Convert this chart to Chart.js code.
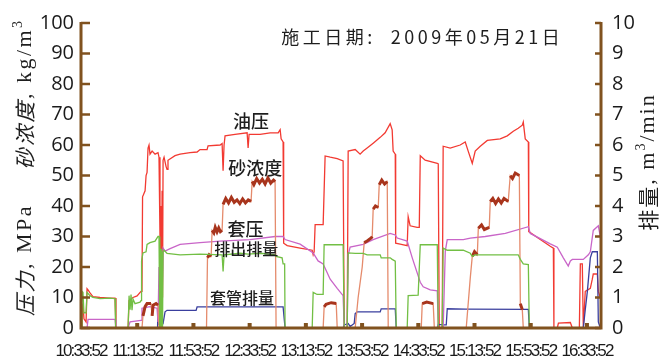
<!DOCTYPE html>
<html><head><meta charset="utf-8">
<script src="https://cdn.jsdelivr.net/npm/chart.js@4.4.0/dist/chart.umd.min.js"></script>
<style>html,body{margin:0;padding:0;background:#fff;}#wrap{width:661px;height:362px;}</style>
</head><body><div id="wrap"><canvas id="c" width="661" height="362"></canvas></div>
<script>
// x = minutes after 10:33:52
const tickLabels = ['10:33:52','11:13:52','11:53:52','12:33:52','13:13:52','13:53:52','14:33:52','15:13:52','15:53:52','16:33:52'];

// 油压 (MPa)
const oilPressure = [[0,0],[0.7,3],[1.4,8],[2.1,3],[3.6,2],[4.3,12.9],[5.0,12.5],[6.4,11.5],[8.5,10.3],[13.5,10],[20.6,9.8],[24.2,9.8],[24.9,0],[33.5,0],[34.2,9],[37.0,10],[39.9,10.5],[42.7,12],[43.4,12.5],[43.8,43],[45.6,45],[46.3,50],[47.0,51],[47.7,59],[48.4,60],[49.1,57],[50.6,58],[52.7,57],[54.8,57.5],[55.5,56],[56.2,30],[56.6,0],[57.0,40],[57.3,5],[57.7,45],[58.0,10],[58.4,55],[59.1,56],[60.5,53],[61.2,52],[61.9,55],[66.9,56.5],[70.5,57],[77.6,57.5],[82.6,57.7],[84.7,58.5],[89.7,58.5],[90.4,59.7],[99.0,60],[100.4,60.5],[101.1,51.6],[101.8,60],[102.5,63],[109.6,63.5],[118.2,64],[118.9,59],[119.6,63.5],[127.4,63.5],[134.6,64],[140.3,64],[141.7,65],[142.4,62],[143.8,61],[144.2,27.8],[146.7,27],[155.9,26.2],[164.5,25.5],[165.2,24],[165.9,25],[166.6,33.9],[172.3,33.9],[173.7,56.4],[177.3,56],[182.3,55.5],[186.5,54.8],[187.3,0],[189.4,0],[190.1,58],[195.1,58.5],[198.6,57],[200.8,58],[203.6,59],[207.9,60.6],[212.9,62.5],[216.4,64],[220.0,67],[221.4,65],[222.1,58],[223.6,57],[223.9,27.8],[227.1,27.5],[232.1,27],[232.8,36.5],[234.2,33.5],[239.2,33],[240.7,33],[241.4,56.5],[244.9,55],[253.5,54],[254.2,53.8],[254.9,0],[257.0,0],[257.7,59.6],[262.7,59],[269.8,60],[273.4,61],[275.5,58],[278.4,54],[280.5,58],[284.1,59.6],[289.1,61.5],[298.3,62],[303.3,63],[307.6,64.5],[311.1,65.5],[314.0,66.5],[314.7,67.5],[316.1,62],[318.3,61],[318.6,31.6],[326.8,29],[333.9,26.8],[336.1,26.2],[336.5,0],[338.9,0],[339.7,1.6],[348.2,1.8],[349.6,0],[354.6,0],[355.3,21],[356.7,21],[357.4,0],[358.8,12],[362.4,13],[363.8,16],[364.5,17.7],[367.4,17.7],[368.1,12],[369.5,10]];

// 套压 (MPa)
const casingPressure = [[0,0],[0.7,12],[1.4,11.7],[2.1,5],[3.6,5],[4.3,11.7],[6.4,10.6],[8.5,10],[13.5,9.6],[20.6,9.8],[24.2,9.6],[24.6,0],[33.5,0],[34.2,10.6],[34.9,6],[35.6,11],[36.3,5.8],[37.0,9.5],[38.4,8],[42.0,8.5],[42.7,9],[43.1,22],[44.1,24.6],[46.3,25],[47.0,27.4],[49.1,28],[52.7,28.5],[54.8,30],[55.5,30],[55.9,0],[56.2,28],[56.6,0],[57.0,26],[57.3,0],[57.7,25],[58.0,0],[58.4,25],[59.1,25.5],[61.2,24.5],[70.5,24],[84.7,24.2],[100.4,24],[101.1,18.5],[101.8,24],[113.2,24.5],[118.9,24.2],[127.4,24.5],[138.1,24],[138.8,23.5],[143.1,23],[143.8,21],[144.9,21],[145.2,0],[164.5,0],[165.2,11.7],[168.0,11],[172.3,11],[173.0,27.3],[177.3,27.3],[186.5,27.3],[187.3,0],[189.4,0],[190.1,24.6],[195.1,24.5],[200.8,24.5],[203.6,24],[212.9,24],[213.6,23],[220.0,23],[221.4,22.5],[223.6,21.9],[224.3,0],[232.1,0],[232.8,10.6],[239.9,10.8],[241.4,27.3],[253.5,27.3],[254.2,0],[257.0,0],[257.7,26.2],[260.6,25.5],[272.0,25.5],[277.0,24.5],[278.4,23.5],[280.5,24],[282.7,24],[311.1,24],[312.6,22.5],[314.7,21],[318.3,20.8],[319.0,0],[369.5,0]];

// 砂浓度 (kg/m3)
const sandConc = [[0,0],[43.4,0],[44.1,4],[45.6,7],[47.0,8],[49.8,8],[50.6,4],[51.3,7.5],[53.4,8],[54.8,7.5],[55.5,0],[89.3,0],[90.0,23],[91.2,24],[92.6,23.5],[93.3,32],[94.5,31.2],[95.5,33],[96.8,31.5],[98,32.8],[99.2,31.6],[100.4,32],[101.1,40.5],[103,42.5],[105,41],[107,42.8],[109,41.2],[111,42],[113,40.8],[115,42.3],[117,41],[119,42],[121.0,41.5],[121.8,48],[123,47],[125,49],[127,47.5],[129,48.8],[131,47.2],[133,49.2],[135,47.5],[137,48.5],[138.1,48],[138.8,0],[172.3,0],[173.0,6.9],[174.4,7.8],[178,8.3],[181.6,8],[182.3,0],[195.1,0],[197.2,10],[200.1,20],[201.5,28],[203.6,28.5],[206.5,29.5],[207.2,30],[207.9,39],[209.5,40],[211.5,39.5],[212.2,47],[214,48.5],[216,47.2],[217.9,48],[218.6,0],[242.1,0],[242.8,8],[246,8.5],[250.6,8],[251.4,0],[274.1,0],[277.0,16.5],[278.4,23.5],[280,25],[282.0,24],[282.7,32.7],[285,33.8],[287,32.3],[290.5,33],[291.2,41.5],[293,42.5],[295,40.8],[297,42.3],[299,41],[301,42.5],[304.0,41.5],[305.4,49.9],[307,49],[309,50.8],[311.9,50],[312.6,8],[314.0,6],[314.7,0],[369.5,0]];

// 排出排量 (m3/min)
const dischargeRate = [[0,0],[4.3,0],[5.0,0.28],[24.2,0.28],[24.9,0],[33.5,0],[34.9,0.2],[42.7,0.25],[43.4,0.65],[49.1,0.7],[54.1,0.65],[54.8,0.2],[55.5,2.0],[56.2,0.5],[57.0,2.5],[57.7,1.0],[58.4,2.62],[59.8,2.52],[63.4,2.6],[70.5,2.74],[84.7,2.8],[99.0,2.85],[120.3,2.9],[138.1,3.0],[143.8,3.0],[145.2,2.9],[155.9,2.75],[165.2,2.46],[168.7,2.2],[172.3,2.1],[177.3,1.6],[182.3,1.3],[186.5,1.06],[187.3,0],[189.4,0],[190.1,2.4],[191.5,2.65],[200.8,2.74],[207.9,2.9],[220.0,3.1],[223.6,3.05],[225.0,2.95],[232.1,2.85],[235.7,2.3],[241.4,1.5],[243.5,1.35],[248.5,1.25],[253.5,1.22],[254.2,0],[257.7,0],[259.2,2.52],[260.6,2.9],[272.0,2.9],[277.0,2.95],[287.6,3.0],[301.9,3.1],[318.3,3.32],[319.7,3.1],[333.9,2.76],[338.9,2.65],[343.2,2.3],[346.7,2.03],[348.2,2.2],[349.6,2.25],[357.4,2.25],[361.0,2.4],[362.4,2.5],[364.5,3.2],[368.1,3.35],[369.5,3.0]];

// 套管排量 (m3/min)
const casingRate = [[0,0],[54.1,0],[54.5,0.1],[54.8,0.5],[55.2,0.1],[55.5,0.58],[56.2,0.05],[57.0,0.15],[57.7,0.1],[58.4,0.15],[59.8,0.53],[61.2,0.58],[81.9,0.58],[82.6,0.69],[143.8,0.69],[145.2,0],[186.5,0],[187.3,0.1],[190.1,0.15],[191.5,0.05],[194.4,0.15],[195.1,0.47],[196.5,0.53],[212.9,0.53],[213.6,0.63],[223.6,0.63],[224.3,0],[253.5,0],[254.2,0.12],[257.7,0.1],[259.9,0.1],[260.6,0.63],[273.4,0.62],[318.3,0.61],[319.0,0],[357.4,0],[358.8,0.6],[360.3,1.2],[362.4,2.3],[363.8,2.5],[367.4,2.5],[368.1,0.2],[369.5,0]];

// in-plot labels, anchored in data coordinates [minutes, left-axis value]
const seriesLabels = [['油压',121,67.7],['砂浓度',124,52.3],['套压',117,32.3],['排出排量',117.5,25.8],['套管排量',114.6,9.7]];
const dateLabel = '施工日期:  2009年05月21日';

const AXIS = '#80521f';
const xy = a => a.map(p => ({x:p[0], y:p[1]}));
const flat = c => c.p0.parsed.y > 2 && c.p1.parsed.y > 2 && Math.abs(c.p1.parsed.y - c.p0.parsed.y) < 4;
const line = (data, color, axis, extra) => Object.assign({data: xy(data), borderColor: color, yAxisID: axis, borderWidth: 1.3, pointRadius: 0, tension: 0, fill: false}, extra || {});

const CJK = "'Noto Sans CJK SC'";
const SERIF = "'Liberation Serif'";

function drawRuns(ctx, runs, cx, cy, spacing) {
  ctx.letterSpacing = (spacing || 0) + 'px';
  let w = 0;
  runs.forEach(r => { ctx.font = r.f; r.w = ctx.measureText(r.t).width; w += r.w; });
  let x = cx - w / 2;
  runs.forEach(r => { ctx.font = r.f; ctx.fillText(r.t, x, cy + (r.dy || 0)); x += r.w; });
  ctx.letterSpacing = '0px';
}

// tighter tracking for the time labels (condensed look of the original)
function condenseLabels(s) {
  if (s._condensed) return;
  s._condensed = true;
  const orig = s.drawLabels;
  s.drawLabels = function (area) {
    const c = this.ctx; c.save(); c.letterSpacing = '-1.9px'; orig.call(this, area); c.restore();
  };
}

const decor = {
  id: 'decor',
  afterDatasetsDraw(chart) {
    const {ctx, chartArea: a, scales: {x, y, y2}} = chart;
    ctx.save();
    ctx.strokeStyle = AXIS; ctx.fillStyle = AXIS;
    ctx.lineWidth = 3;
    ctx.beginPath();
    ctx.moveTo(a.left, a.top - 1); ctx.lineTo(a.left, a.bottom); ctx.lineTo(a.right, a.bottom); ctx.lineTo(a.right, a.top - 1);
    ctx.stroke();
    ctx.lineWidth = 2.5;
    y.ticks.forEach(t => { const p = y.getPixelForValue(t.value); ctx.beginPath(); ctx.moveTo(a.left, p); ctx.lineTo(a.left + 9, p); ctx.stroke(); });
    y2.ticks.forEach(t => { const p = y2.getPixelForValue(t.value); ctx.beginPath(); ctx.moveTo(a.right, p); ctx.lineTo(a.right - 6, p); ctx.stroke(); });
    x.ticks.forEach((t, i) => { if (i === 0) return; const p = x.getPixelForValue(t.value); ctx.fillRect(p - 2, a.bottom - 5, 4, 5); });
    ctx.restore();
  },
  afterDraw(chart) {
    const {ctx, scales: {x, y}} = chart;
    ctx.save();
    ctx.fillStyle = '#1e1e1e';
    ctx.textBaseline = 'middle';
    ctx.textAlign = 'left';
    seriesLabels.forEach(l => {
      const size = l[0].length === 4 ? 16 : 18;
      drawRuns(ctx, [{t: l[0], f: '500 ' + size + 'px ' + CJK}], x.getPixelForValue(l[1]), y.getPixelForValue(l[2]));
    });
    drawRuns(ctx, [{t: dateLabel, f: '18px ' + CJK}], x.getPixelForValue(242.8), y.getPixelForValue(95.5), 3.5);
    ctx.save();
    ctx.translate(25, 0); ctx.rotate(-Math.PI / 2);
    drawRuns(ctx, [{t: '压力', f: 'italic 21px ' + CJK}, {t: ', MPa', f: '22px ' + SERIF}], -260, 0, 2.5);
    drawRuns(ctx, [{t: '砂浓度', f: 'italic 21px ' + CJK}, {t: ', kg/m', f: '22px ' + SERIF}, {t: '3', f: '14px ' + SERIF, dy: -7}], -94, 0, 2.5);
    ctx.restore();
    ctx.save();
    ctx.translate(648, 0); ctx.rotate(-Math.PI / 2);
    drawRuns(ctx, [{t: '排量', f: '21px ' + CJK}, {t: ', m', f: '22px ' + SERIF}, {t: '3', f: '14px ' + SERIF, dy: -7}, {t: '/min', f: '22px ' + SERIF}], -162, 0, 2);
    ctx.restore();
    ctx.restore();
  }
};

new Chart(document.getElementById('c'), {
  type: 'line',
  data: {datasets: [
    line(casingPressure, '#72bf44', 'y'),
    line(sandConc, 'rgba(0,0,0,0)', 'y', {borderWidth: 3, segment: {borderColor: c => flat(c) ? '#a8341c' : 'rgba(0,0,0,0)'}}),
    line(sandConc, '#e58b6c', 'y'),
    line(dischargeRate, '#c965c8', 'y2'),
    line(casingRate, '#3a3f9e', 'y2'),
    line(oilPressure, '#f23a32', 'y')
  ]},
  options: {
    responsive: false, animation: false, devicePixelRatio: 1,
    layout: {padding: {top: 18, left: 0, right: 0, bottom: 0}},
    plugins: {legend: {display: false}, tooltip: {enabled: false}, title: {display: false}},
    scales: {
      x: {type: 'linear', min: 0, max: 370,
        afterBuildTicks: s => { s.ticks = tickLabels.map((_, i) => ({value: i * 40})); },
        afterFit: s => { s.height = 34; condenseLabels(s); },
        grid: {display: false, drawTicks: false}, border: {display: false},
        ticks: {autoSkip: false, maxRotation: 0, padding: 13, color: '#1a1a1a',
          font: {family: "'Liberation Sans'", size: 17},
          callback: (v, i) => tickLabels[i]}},
      y: {position: 'left', min: 0, max: 100,
        afterFit: s => { s.width = 81; },
        grid: {display: false, drawTicks: false}, border: {display: false},
        ticks: {stepSize: 10, padding: 7, color: '#1a1a1a', font: {family: "'Open Sans'", size: 20}}},
      y2: {position: 'right', min: 0, max: 10,
        afterFit: s => { s.width = 60; },
        grid: {display: false, drawTicks: false}, border: {display: false},
        ticks: {stepSize: 1, padding: 11, color: '#1a1a1a', font: {family: "'Open Sans'", size: 20}}}
    }
  },
  plugins: [decor]
});
</script>
</body></html>
